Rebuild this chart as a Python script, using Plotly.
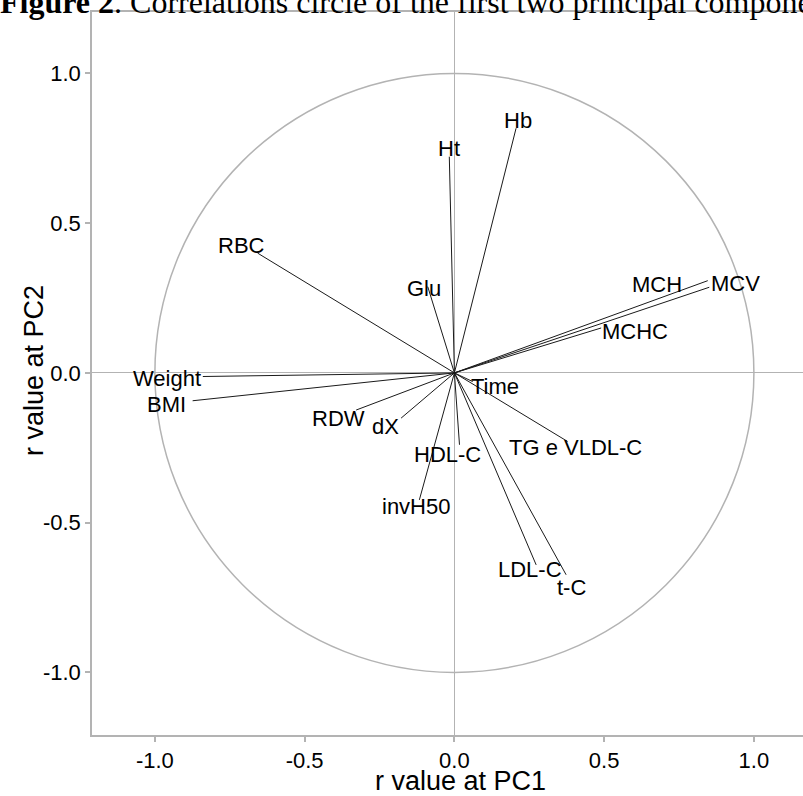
import plotly.graph_objects as go

# ---- data (correlations of each variable with PC1 / PC2) ----
variables = ["Hb", "Ht", "RBC", "Glu", "MCH", "MCV", "MCHC", "Weight", "BMI",
             "Time", "RDW", "dX", "HDL-C", "TG e VLDL-C", "invH50", "LDL-C", "t-C"]
pc1 = [0.206, -0.017, -0.657, -0.089, 0.846, 0.851, 0.490, -0.840, -0.874,
       0.061, -0.328, -0.178, 0.017, 0.378, -0.117, 0.273, 0.373]
pc2 = [0.817, 0.722, 0.400, 0.288, 0.308, 0.286, 0.150, -0.012, -0.093,
       -0.029, -0.124, -0.151, -0.240, -0.229, -0.424, -0.641, -0.674]

x_ticks = [-1.0, -0.5, 0.0, 0.5, 1.0]
x_tick_text = ["-1.0", "-0.5", "0.0", "0.5", "1.0"]
y_ticks = [-1.0, -0.5, 0.0, 0.5, 1.0]
y_tick_text = ["-1.0", "-0.5", "0.0", "0.5", "1.0"]

# label offsets in pixels (style only): (dx right, dy up)
label_shift = {
    "Hb": (2, 8), "Ht": (0, 8), "RBC": (-16, 8), "Glu": (-4, -2),
    "MCH": (-51, -4), "MCV": (26, 4), "MCHC": (34, -4), "Weight": (-36, -2),
    "BMI": (-26, -4), "Time": (22, -5), "RDW": (-18, -8), "dX": (-16, -8),
    "HDL-C": (-12, -10), "TG e VLDL-C": (8, -6), "invH50": (-3, -7),
    "LDL-C": (-6, -5), "t-C": (5, -13),
}

GRAY = "#b3b3b3"
FONT = "Liberation Sans, Arial, sans-serif"

# vectors from origin
lx, ly = [], []
for a, b in zip(pc1, pc2):
    lx += [0, a, None]
    ly += [0, b, None]

fig = go.Figure()
fig.add_trace(go.Scatter(x=lx, y=ly, mode="lines",
                         line=dict(color="#1a1a1a", width=1),
                         hoverinfo="skip", showlegend=False))

# unit circle
fig.add_shape(type="circle", xref="x", yref="y", x0=-1, y0=-1, x1=1, y1=1,
              line=dict(color=GRAY, width=1.5), layer="below")

annotations = []
for name, a, b in zip(variables, pc1, pc2):
    dx, dy = label_shift[name]
    annotations.append(dict(x=a, y=b, xref="x", yref="y", text=name,
                            showarrow=False, xshift=dx, yshift=dy,
                            font=dict(family=FONT, size=22, color="#000")))

# axis titles
annotations.append(dict(text="r value at PC1", xref="paper", yref="paper",
                        x=0.5176, y=-0.0637, showarrow=False,
                        xanchor="center", yanchor="middle",
                        font=dict(family=FONT, size=27, color="#000")))
annotations.append(dict(text="r value at PC2", xref="paper", yref="paper",
                        x=-0.0816, y=0.5048, showarrow=False, textangle=-90,
                        xanchor="center", yanchor="middle",
                        font=dict(family=FONT, size=27, color="#000")))
# figure caption (cropped at the top of the picture)
annotations.append(dict(text="<b>Figure 2</b>. Correlations circle of the first two principal components",
                        xref="paper", yref="paper", x=0, y=1, xshift=-94, yshift=10,
                        xanchor="left", yanchor="middle", showarrow=False,
                        font=dict(family="Liberation Serif, Times New Roman, serif",
                                  size=32, color="#000")))

fig.update_layout(
    width=803, height=796,
    margin=dict(l=92, r=0, t=12, b=61),
    paper_bgcolor="white", plot_bgcolor="white",
    annotations=annotations,
    xaxis=dict(range=[-1.21, -1.21 + 711 / 299.5], tickvals=x_ticks,
               ticktext=x_tick_text, ticks="outside", ticklen=5, tickcolor=GRAY,
               tickwidth=1.5, showline=True, linecolor=GRAY, linewidth=1.5,
               mirror=True, showgrid=False, zeroline=True, zerolinecolor=GRAY,
               zerolinewidth=1, tickfont=dict(family=FONT, size=22, color="#000")),
    yaxis=dict(range=[-1.209, -1.209 + 723 / 299.5], tickvals=y_ticks,
               ticktext=y_tick_text, ticks="outside", ticklen=5, tickcolor=GRAY,
               tickwidth=1.5, showline=True, linecolor=GRAY, linewidth=1.5,
               mirror=False, showgrid=False, zeroline=True, zerolinecolor=GRAY,
               zerolinewidth=1, tickfont=dict(family=FONT, size=22, color="#000")),
)

fig.write_html("out.html")
